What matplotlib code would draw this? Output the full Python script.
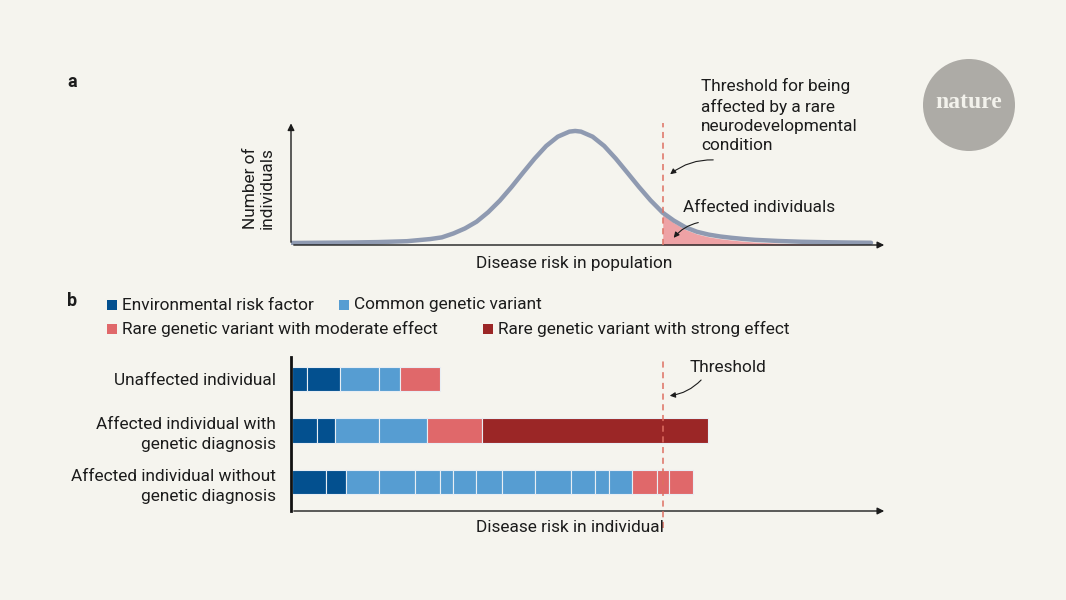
import matplotlib
matplotlib.use("Agg")
import matplotlib.pyplot as plt
from matplotlib.patches import Rectangle, Ellipse, FancyArrowPatch
import numpy as np

plt.rcParams['font.family'] = ['Roboto', 'DejaVu Sans']

# panel a: population risk distribution
risk = [0, 5, 10, 15, 20, 24, 26, 28, 30, 32, 34, 36, 38, 40, 42, 44, 46, 48, 49,
        50, 52, 54, 56, 58, 60, 62, 64.1, 66, 68, 70, 72, 74, 76, 78, 80, 84, 88,
        92, 96, 100]
count = [0.0, 0.002, 0.004, 0.008, 0.016, 0.035, 0.05, 0.085, 0.13, 0.19, 0.275,
         0.378, 0.498, 0.627, 0.753, 0.866, 0.949, 0.994, 1.0, 0.994, 0.949, 0.866,
         0.753, 0.627, 0.5, 0.38, 0.27, 0.2, 0.14, 0.1, 0.075, 0.058, 0.046, 0.036,
         0.028, 0.018, 0.011, 0.007, 0.004, 0.002]
threshold = 64.1

# panel b: stacked risk contributions per individual
individuals = ['Unaffected individual',
               'Affected individual with\ngenetic diagnosis',
               'Affected individual without\ngenetic diagnosis']
# (category, width) segments for each individual
segments = [
    [('env', 2.6), ('env', 5.7), ('common', 6.7), ('common', 3.6), ('moderate', 6.9)],
    [('env', 4.3), ('env', 3.1), ('common', 7.6), ('common', 8.3),
     ('moderate', 9.5), ('strong', 39.0)],
    [('env', 5.9), ('env', 3.4), ('common', 5.7), ('common', 6.2), ('common', 4.3),
     ('common', 2.2), ('common', 4.0), ('common', 4.5), ('common', 5.7),
     ('common', 6.2), ('common', 4.1), ('common', 2.4), ('common', 4.0),
     ('moderate', 4.3), ('moderate', 2.2), ('moderate', 4.1)],
]
legend_labels = {'env': 'Environmental risk factor',
                 'common': 'Common genetic variant',
                 'moderate': 'Rare genetic variant with moderate effect',
                 'strong': 'Rare genetic variant with strong effect'}
colors = {'env': '#03508f', 'common': '#569dd2',
          'moderate': '#e0686a', 'strong': '#9b2626'}

BG = '#f5f4ee'
INK = '#1c1c1c'
W, H = 1066, 600


def fx(px):
    return px / W


def fy(py):
    return 1 - py / H


def arrow(p0, p1, rad):
    fig.add_artist(FancyArrowPatch(
        (fx(p0[0]), fy(p0[1])), (fx(p1[0]), fy(p1[1])), transform=fig.transFigure,
        arrowstyle='-|>', mutation_scale=8, lw=0.8, color=INK,
        connectionstyle='arc3,rad=%s' % rad))


fig = plt.figure(figsize=(W / 100, H / 100), dpi=100, facecolor=BG)
xmax = (887 - 291) / 5.8
fs = 12.4

# ---- panel a
ax_a = fig.add_axes([fx(291), fy(245), fx(887) - fx(291), (245 - 123) / H])
ax_a.set_facecolor(BG)
ax_a.set_xlim(0, xmax)
ax_a.set_ylim(-0.018, 1.071)
ax_a.axis('off')
x = np.array(risk)
y = np.array(count)
m = x >= threshold
ax_a.fill_between(x[m], -0.018, y[m] - 0.02, color='#eea2a5', lw=0, zorder=2)
ax_a.plot(x, y, color='#8f9ab1', lw=3.2, solid_capstyle='round',
          solid_joinstyle='round', zorder=3)
ax_a.axvline(threshold, color='#de6f62', lw=1.1, ls=(0, (4, 3)), zorder=4)
ax_a.annotate('', xy=(1, 0), xytext=(0, 0), xycoords='axes fraction',
              arrowprops=dict(arrowstyle='-|>', lw=1, color=INK, mutation_scale=10))
ax_a.annotate('', xy=(0, 1.02), xytext=(0, 0), xycoords='axes fraction',
              arrowprops=dict(arrowstyle='-|>', lw=1, color=INK, mutation_scale=10))

fig.text(fx(72), fy(82), 'a', fontsize=13, fontweight='bold', ha='center', va='center', color=INK)
fig.text(fx(701), fy(78), 'Threshold for being\naffected by a rare\nneurodevelopmental\ncondition',
         fontsize=fs, ha='left', va='top', color=INK, linespacing=1.36)
fig.text(fx(683), fy(208), 'Affected individuals', fontsize=fs, ha='left', va='center', color=INK)
fig.text(fx(259), fy(188), 'Number of\nindividuals', fontsize=fs, rotation=90,
         ha='center', va='center', color=INK, multialignment='center', linespacing=1.15)
fig.text(fx(574), fy(264), 'Disease risk in population', fontsize=fs, ha='center', va='center', color=INK)
arrow((716, 160), (668, 176), 0.2)
arrow((701, 222), (672, 240), 0.2)

# ---- legend
fig.text(fx(72), fy(301), 'b', fontsize=13, fontweight='bold', ha='center', va='center', color=INK)
legend_pos = {'env': (107, 305), 'common': (339, 305), 'moderate': (107, 329), 'strong': (483, 329)}
for key, (lx, ly) in legend_pos.items():
    fig.add_artist(Rectangle((fx(lx), fy(ly + 5)), 10 / W, 10 / H,
                             transform=fig.transFigure, color=colors[key], lw=0))
    fig.text(fx(lx + 15), fy(ly), legend_labels[key], fontsize=fs,
             ha='left', va='center', color=INK)

# ---- panel b
ax_b = fig.add_axes([fx(291), fy(511), fx(887) - fx(291), (511 - 357) / H])
ax_b.set_facecolor(BG)
ax_b.set_xlim(0, xmax)
ax_b.set_ylim(2.563, -0.427)
for i, segs in enumerate(segments):
    left = 0.15
    for key, w in segs:
        ax_b.barh(i, w, left=left, height=0.47, color=colors[key],
                  edgecolor='#e8eef4', linewidth=0.8)
        left += w
ax_b.axvline(threshold, ymin=-0.11, ymax=1, color='#de6f62', lw=1.1,
             ls=(0, (4, 3)), zorder=4, clip_on=False)
for s in ['top', 'right', 'bottom']:
    ax_b.spines[s].set_visible(False)
ax_b.spines['left'].set_linewidth(2)
ax_b.spines['left'].set_color('#111111')
ax_b.set_xticks([])
ax_b.set_yticks(range(len(individuals)), individuals)
ax_b.tick_params(axis='y', length=0, pad=11, labelsize=fs, labelcolor=INK)
for t in ax_b.get_yticklabels():
    t.set_multialignment('right')
    t.set_linespacing(1.45)
ax_b.annotate('', xy=(1, 0), xytext=(0, 0), xycoords='axes fraction',
              arrowprops=dict(arrowstyle='-|>', lw=1, color=INK, mutation_scale=10))
fig.text(fx(690), fy(368), 'Threshold', fontsize=fs, ha='left', va='center', color=INK)
arrow((703, 378), (667, 396), -0.2)
fig.text(fx(570), fy(527), 'Disease risk in individual', fontsize=fs, ha='center', va='center', color=INK)

# ---- logo
fig.add_artist(Ellipse((fx(969), fy(105)), 92 / W, 92 / H, transform=fig.transFigure,
                       color='#adaba6', lw=0))
fig.text(fx(969), fy(103), 'nature', fontsize=17, family='Liberation Serif',
         fontweight='bold', color='#f3f2ec', ha='center', va='center')

fig.savefig('out.png', dpi=100, facecolor=BG)
